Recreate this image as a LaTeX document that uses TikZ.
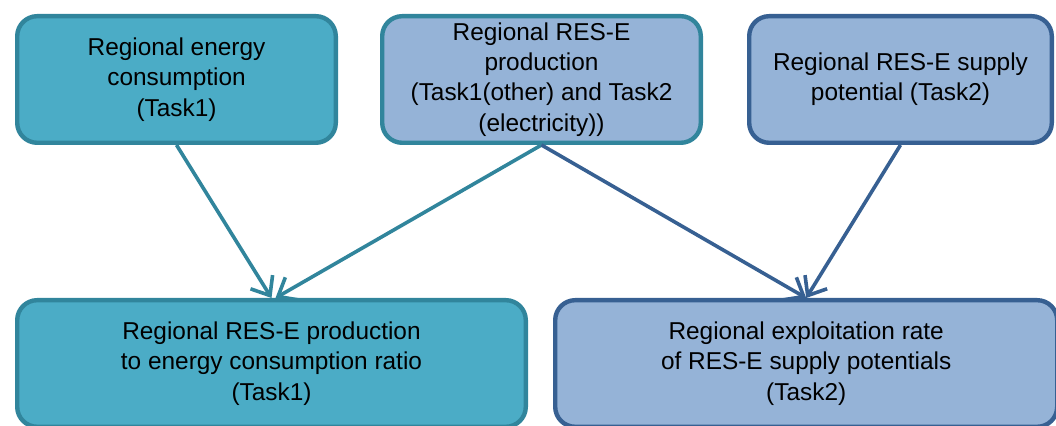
\documentclass[tikz,border=0pt]{standalone}
\usepackage{fontspec}
\setmainfont{Liberation Sans}
\usetikzlibrary{arrows.meta,positioning}

\definecolor{tealfill}{HTML}{4BACC6}
\definecolor{tealline}{HTML}{31859C}
\definecolor{bluefill}{HTML}{95B3D7}
\definecolor{blueline}{HTML}{376092}

\begin{document}
\begin{tikzpicture}
          [-{Straight Barb[length=8pt,width=13pt]},line width=1.8pt,node distance=21pt]
          \tikzstyle{box}=[rectangle,rounded corners=10pt,line width=2.2pt,align=center,text=black,
            font=\fontsize{12.2}{15.2}\selectfont,minimum height=63.3pt,inner sep=2pt]
          \tikzstyle{teal box}=[box,fill=tealfill,draw=tealline]
          \tikzstyle{mixed box}=[box,fill=bluefill,draw=tealline]
          \tikzstyle{blue box}=[box,fill=bluefill,draw=blueline]

          \useasboundingbox (0,0) rectangle (528pt,213pt);

          \node[teal box,minimum width=159.3pt] (b1) at (88.25pt,173.25pt) {Regional energy\\consumption\\(Task1)};
          \node[mixed box,minimum width=159.3pt] (b2) [right=of b1] {Regional RES-E\\production\\(Task1(other) and Task2\\(electricity))};
          \node[blue box,minimum width=151.3pt] (b3) [right=22pt of b2] {Regional RES-E supply\\potential (Task2)};
          \node[teal box,minimum width=254.3pt] (b4) [below=76.5pt of b1.south west,anchor=north west] {Regional RES-E production\\to energy consumption ratio\\(Task1)};
          \node[blue box,minimum width=251pt] (b5) [right=12.5pt of b4] {Regional exploitation rate\\of RES-E supply potentials\\(Task2)};

          \path[tealline]
          (b1.south) edge (b4.north)
          (b2.south) edge ([xshift=2pt]b4.north)
          ;
          \path[blueline]
          (b2.south) edge (b5.north)
          (b3.south) edge (b5.north)
          ;
        \end{tikzpicture}
\end{document}
